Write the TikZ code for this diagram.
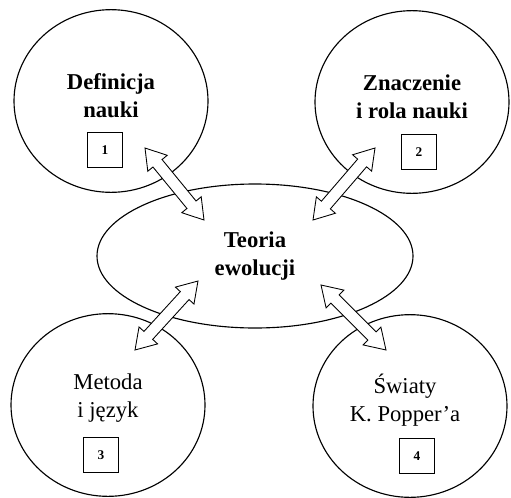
\documentclass[tikz,border=0pt]{standalone}
\usepackage{fontspec}
\setmainfont{Liberation Serif}
\usetikzlibrary{shapes.geometric,shapes.arrows,calc}
\begin{document}
\begin{tikzpicture}[x=0.75pt,y=-0.75pt]
                    \tikzstyle{blob}=[draw,ellipse,line width=0.85pt,minimum width=145.5pt,minimum height=137pt]
                    \tikzstyle{title}=[align=center,font=\fontsize{17}{21}\selectfont\bfseries]
                    \tikzstyle{plain title}=[align=center,font=\fontsize{17}{21}\selectfont]
                    \tikzstyle{numbox}=[draw,line width=0.6pt,minimum size=26pt,inner sep=0pt,font=\fontsize{10}{12}\selectfont\bfseries]
                    \tikzstyle{hollow}=[draw,line width=0.65pt,fill=white,double arrow,double arrow head extend=5pt,double arrow tip angle=65,inner xsep=0pt,inner ysep=4.1pt]
                    \useasboundingbox (0,0) rectangle (511,497);
                    \node[blob] (c1) at (111,101) {};
                    \node[blob] (c2) at (412,102) {};
                    \node[blob] (c3) at (108,405) {};
                    \node[blob] (c4) at (410,406) {};
                    \node[blob,minimum width=237pt,minimum height=108pt] (ev) at (255,256) {};
                    \node[title] (t1) at (111,96) {Definicja\\nauki};
                    \node[title] (t2) at (412,97) {Znaczenie\\i rola nauki};
                    \node[plain title] (t3) at (108,398) {Metoda\\i język};
                    \node[plain title] (t4) at (405,400) {Światy\\K. Popper’a};
                    \node[title] (te) at (255,256) {Teoria\\ewolucji};
                    \node[numbox] (n1) at (105,150) {1};
                    \node[numbox] (n2) at (419,152) {2};
                    \node[numbox] (n3) at (101,455) {3};
                    \node[numbox] (n4) at (417,456) {4};
                    \coordinate (a1) at (145,148); \coordinate (b1) at (204,220);
                    \coordinate (a2) at (375,148); \coordinate (b2) at (313,220);
                    \coordinate (a3) at (135,350); \coordinate (b3) at (198,281);
                    \coordinate (a4) at (386,350); \coordinate (b4) at (321,285);
                    \foreach \i in {1,...,4}
                        \path let \p1=($(b\i)-(a\i)$), \n1={atan2(\y1,\x1)}, \n2={veclen(\x1,\y1)} in
                            node[hollow,rotate=\n1,minimum height=\n2] at ($(a\i)!0.5!(b\i)$) {};
                \end{tikzpicture}
\end{document}
